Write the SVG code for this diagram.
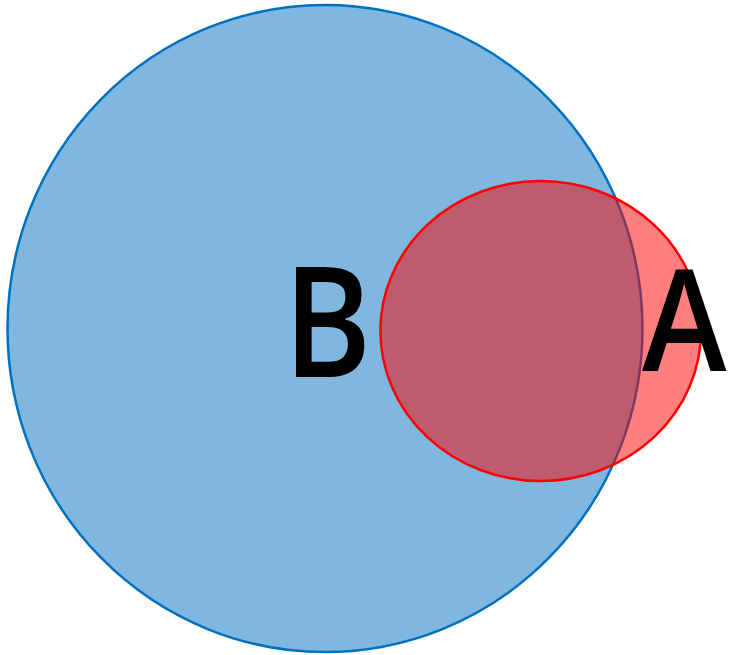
<svg xmlns="http://www.w3.org/2000/svg" width="729" height="655" viewBox="0 0 729 655">
<style>
.lbl{font-family:"Open Sans","Noto Sans","Liberation Sans",sans-serif;fill:#000;font-weight:600}
</style>
<rect width="729" height="655" fill="#fff"/>
<g id="nodeB">
<ellipse cx="325" cy="328.5" rx="317.5" ry="323.5" fill="#0070C0" fill-opacity="0.5" stroke="#0070C0" stroke-width="2.5"/>
</g>
<g id="nodeA">
<ellipse cx="540.7" cy="331" rx="160.3" ry="150" fill="#FF0000" fill-opacity="0.5" stroke="#FF0000" stroke-width="2.5"/>
</g>
<g id="connectors"></g>
<g id="labels">
<text class="lbl" transform="translate(283.5,377) scale(0.866,1)" font-size="154">B</text>
<text class="lbl" transform="translate(642,371) scale(0.9,1)" font-size="142">A</text>
</g>
</svg>
